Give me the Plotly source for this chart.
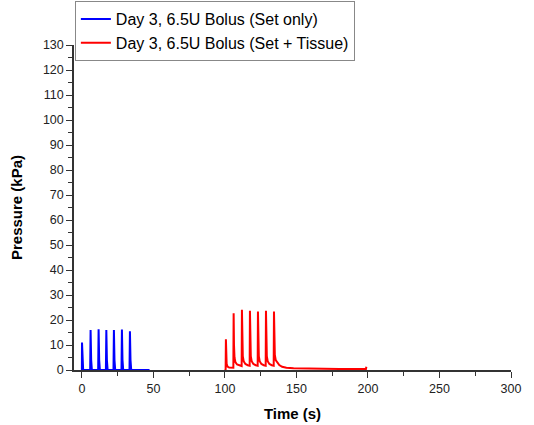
import plotly.graph_objects as go

# Blue series: Day 3, 6.5U Bolus (Set only)
blue_t = [-0.3, 0.0, 0.1, 0.4, 0.9, 5.8, 6.1, 6.5, 7.0, 11.4, 11.7, 12.1, 12.6,
          16.8, 17.1, 17.5, 18.0, 22.1, 22.4, 22.8, 23.3, 27.7, 28.0, 28.4, 28.9,
          33.3, 33.6, 34.0, 34.5, 47.3]
blue_p = [0, 0, 11.0, 3, 0, 0, 16.0, 4, 0, 0, 16.3, 4, 0,
          0, 16.0, 4, 0, 0, 16.0, 4, 0, 0, 16.2, 4, 0,
          0, 15.5, 4, 0, 0]

# Red series: Day 3, 6.5U Bolus (Set + Tissue)
red_t = [100.0, 100.5, 100.7, 100.9, 101.2, 101.8, 103.0, 105.9,
         106.1, 106.35, 106.7, 107.3, 108.5, 110.0, 111.7,
         111.9, 112.15, 112.5, 113.1, 114.3, 116.0, 117.3,
         117.5, 117.75, 118.1, 118.7, 119.9, 121.6, 122.9,
         123.1, 123.35, 123.7, 124.3, 125.5, 127.2, 128.5,
         128.7, 128.95, 129.3, 129.9, 131.1, 132.8, 134.1,
         134.3, 134.55, 134.9, 135.5, 136.7, 138.0, 140.0, 143.0,
         148.0, 160.0, 180.0, 198.6, 198.9]
red_p = [0.0, 0.3, 12.3, 6.0, 2.5, 1.4, 1.0, 0.9,
         22.7, 10.0, 5.0, 3.2, 2.2, 1.8, 1.6,
         24.1, 11.0, 5.5, 3.5, 2.4, 1.9, 1.7,
         23.7, 11.0, 5.5, 3.5, 2.4, 1.9, 1.7,
         23.4, 11.0, 5.5, 3.5, 2.4, 1.9, 1.7,
         23.7, 11.0, 5.5, 3.5, 2.4, 1.9, 1.7,
         23.4, 11.0, 6.0, 4.0, 2.8, 2.0, 1.3, 0.9,
         0.7, 0.5, 0.4, 0.4, 1.3]

x_title = "Time (s)"
y_title = "Pressure (kPa)"
name_blue = "Day 3, 6.5U Bolus (Set only)"
name_red = "Day 3, 6.5U Bolus (Set + Tissue)"

fig = go.Figure()
fig.add_trace(go.Scatter(x=blue_t, y=blue_p, mode="lines", name=name_blue,
                         line=dict(color="#0000FF", width=2)))
fig.add_trace(go.Scatter(x=red_t, y=red_p, mode="lines", name=name_red,
                         line=dict(color="#FF0000", width=2)))

FAM = "Liberation Sans, Arial, sans-serif"
axis_font = dict(family=FAM, size=12.5, color="#222")
title_font = dict(family=FAM, size=15, color="#000")

fig.update_layout(
    width=534, height=425,
    margin=dict(l=74, r=23, t=45, b=55, autoexpand=False),
    plot_bgcolor="white", paper_bgcolor="white",
    showlegend=True,
    legend=dict(x=0.002, y=1.135, xanchor="left", yanchor="top",
                bordercolor="#888", borderwidth=1, bgcolor="rgba(255,255,255,0)",
                font=dict(family=FAM, size=16, color="#000"),
                tracegroupgap=0, itemwidth=30),
    xaxis=dict(range=[-5.5, 300], tickmode="linear", tick0=0, dtick=50,
               ticks="outside", ticklen=6, tickwidth=1.2, tickcolor="#333",
               showline=True, linecolor="#333", linewidth=1.5, showgrid=False,
               zeroline=False, tickfont=axis_font,
               minor=dict(dtick=25, tick0=0, ticks="outside", ticklen=4, tickcolor="#333", showgrid=False),
               title=dict(text="<b>" + x_title + "</b>", font=title_font, standoff=14)),
    yaxis=dict(range=[0, 130], tickmode="linear", tick0=0, dtick=10,
               ticks="outside", ticklen=6, tickwidth=1.2, tickcolor="#333",
               showline=True, linecolor="#333", linewidth=1.5, showgrid=False,
               zeroline=False, tickfont=axis_font,
               minor=dict(dtick=5, tick0=0, ticks="outside", ticklen=4, tickcolor="#333", showgrid=False),
               title=dict(text="<b>" + y_title + "</b>", font=title_font, standoff=17)),
)

fig.write_html("out.html")
